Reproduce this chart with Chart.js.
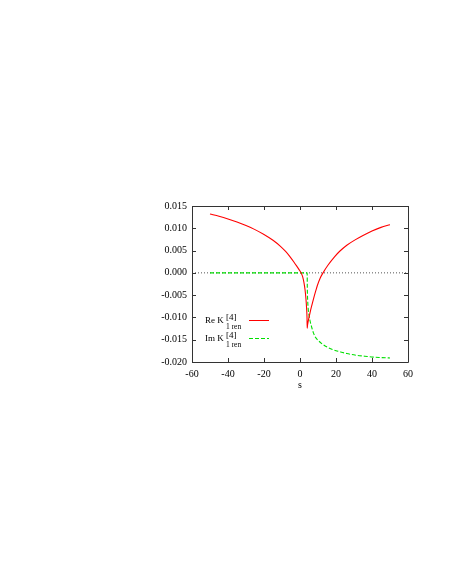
<!DOCTYPE html>
<html>
<head>
<meta charset="utf-8">
<script src="https://cdn.jsdelivr.net/npm/chart.js@4.4.0/dist/chart.umd.min.js"></script>
<style>
  html, body { margin: 0; padding: 0; background: #fff; }
  #wrap { position: relative; width: 454px; height: 588px; }
  .leg { position: absolute; font-family: "Liberation Serif", "DejaVu Serif", serif; color: #000; white-space: nowrap; line-height: 10px; }
  .main { font-size: 9px; }
  .small { font-size: 7.5px; }
  .sample { position: absolute; width: 20px; height: 1px; }
</style>
</head>
<body>
<div id="wrap">
  <canvas id="chart" width="454" height="588"></canvas>

  <div class="leg main" style="left:205px; top:315px">Re K</div>
  <div class="leg main" style="left:226px; top:312px">[4]</div>
  <div class="leg small" style="left:226px; top:322px">1 ren</div>
  <div class="sample" style="left:249px; top:320px; background:#f00"></div>

  <div class="leg main" style="left:205px; top:333px">Im K</div>
  <div class="leg main" style="left:226px; top:330px">[4]</div>
  <div class="leg small" style="left:226px; top:340px">1 ren</div>
  <div class="sample" style="left:249px; top:338px; background:repeating-linear-gradient(to right, #00e000 0 4px, transparent 4px 6px)"></div>
</div>
<script>
// Re K_1ren^[4]
const reS = [-50, -45, -40, -35, -30, -25, -20, -15, -11, -8, -5.5, -3.5, -1.8, 0, 0.6, 1.5, 2.2, 2.8, 3.3, 3.7, 3.9, 4.0,
  4.2, 4.5, 5.0, 5.6, 6.3, 7.0, 7.8, 8.7, 9.6, 11.3, 12.8, 15.5, 19.4, 22.2, 26, 30.6, 35, 40, 45, 50];
const reVals = [0.0132, 0.0127, 0.0121, 0.0114, 0.0106, 0.0097, 0.0086, 0.0073, 0.0060, 0.0048, 0.0036, 0.0025, 0.0015, 0.0004, 0.0, -0.0009, -0.0022, -0.0038, -0.0058, -0.0082, -0.0101, -0.0124,
  -0.0117, -0.0110, -0.0100, -0.0089, -0.0077, -0.0066, -0.0054, -0.0041, -0.0029, -0.0011, 0.0, 0.0017, 0.0037, 0.0049, 0.0062, 0.0074, 0.0084, 0.0094, 0.0102, 0.0108];

// Im K_1ren^[4]
const imS = [-50, -30, -10, 0, 4.0, 4.05, 4.15, 4.3, 4.6, 5.0, 5.6, 6.5, 7.4, 8.5, 10.2, 12.5, 14.8, 18, 22.2, 26, 31.5, 36, 40.7, 45, 50];
const imVals = [0, 0, 0, 0, 0, -0.0030, -0.0050, -0.0065, -0.0083, -0.0095, -0.0108, -0.0122, -0.0134, -0.0144, -0.0152, -0.0160, -0.0166, -0.0172, -0.0177, -0.0181, -0.0185, -0.0187, -0.0189, -0.0190, -0.0191];

// dotted zero axis
const zeroS = [-60, 60];
const zeroVals = [0, 0];

const xTicks = [-60, -40, -20, 0, 20, 40, 60];
const yTicks = [-0.020, -0.015, -0.010, -0.005, 0.000, 0.005, 0.010, 0.015];

const pts = (xs, ys) => xs.map((x, i) => ({ x, y: ys[i] }));
const serif = '"Liberation Serif", "DejaVu Serif", serif';

const framePlugin = {
  id: 'frame',
  afterDatasetsDraw(chart) {
    const { ctx, chartArea: a, scales: { x, y } } = chart;
    const t = 4;
    ctx.save();
    ctx.strokeStyle = '#333';
    ctx.lineWidth = 1;
    ctx.beginPath();
    ctx.rect(Math.round(a.left) + 0.5, Math.round(a.top) + 0.5, Math.round(a.right - a.left), Math.round(a.bottom - a.top));
    xTicks.forEach(v => {
      const px = Math.round(x.getPixelForValue(v)) + 0.5;
      ctx.moveTo(px, a.bottom); ctx.lineTo(px, a.bottom - t);
      ctx.moveTo(px, a.top); ctx.lineTo(px, a.top + t);
    });
    yTicks.forEach(v => {
      const py = Math.round(y.getPixelForValue(v)) + 0.5;
      ctx.moveTo(a.left, py); ctx.lineTo(a.left + t, py);
      ctx.moveTo(a.right, py); ctx.lineTo(a.right - t, py);
    });
    ctx.stroke();
    ctx.restore();
  }
};

new Chart(document.getElementById('chart'), {
  type: 'line',
  data: {
    datasets: [
      { data: pts(reS, reVals), borderColor: '#ff0000', borderWidth: 1.1, pointRadius: 0, cubicInterpolationMode: 'monotone', order: 1 },
      { data: pts(imS, imVals), borderColor: '#00e000', borderWidth: 1.1, borderDash: [4, 2], pointRadius: 0, cubicInterpolationMode: 'monotone', order: 2 },
      { data: pts(zeroS, zeroVals), borderColor: '#555', borderWidth: 1, borderDash: [1, 2], pointRadius: 0, order: 3 },
    ],
  },
  options: {
    responsive: false,
    devicePixelRatio: 1,
    animation: false,
    layout: { padding: { left: 152, right: 46, top: 206, bottom: 186 } },
    plugins: { legend: { display: false }, tooltip: { enabled: false } },
    scales: {
      x: {
        type: 'linear', min: -60, max: 60,
        afterBuildTicks: s => { s.ticks = xTicks.map(v => ({ value: v })); },
        afterFit: s => { s.height = 40; },
        ticks: { color: '#000', font: { family: serif, size: 10 }, padding: 6 },
        grid: { display: false, drawTicks: false },
        border: { display: false },
        title: { display: true, text: 's', color: '#000', font: { family: serif, size: 10 }, padding: { top: 0, bottom: 11 } },
      },
      y: {
        type: 'linear', min: -0.020, max: 0.015,
        afterBuildTicks: s => { s.ticks = yTicks.map(v => ({ value: v })); },
        afterFit: s => { s.width = 40; },
        ticks: { color: '#000', font: { family: serif, size: 10 }, padding: 5, callback: v => v.toFixed(3) },
        grid: { display: false, drawTicks: false },
        border: { display: false },
      },
    },
  },
  plugins: [framePlugin],
});
</script>
</body>
</html>
